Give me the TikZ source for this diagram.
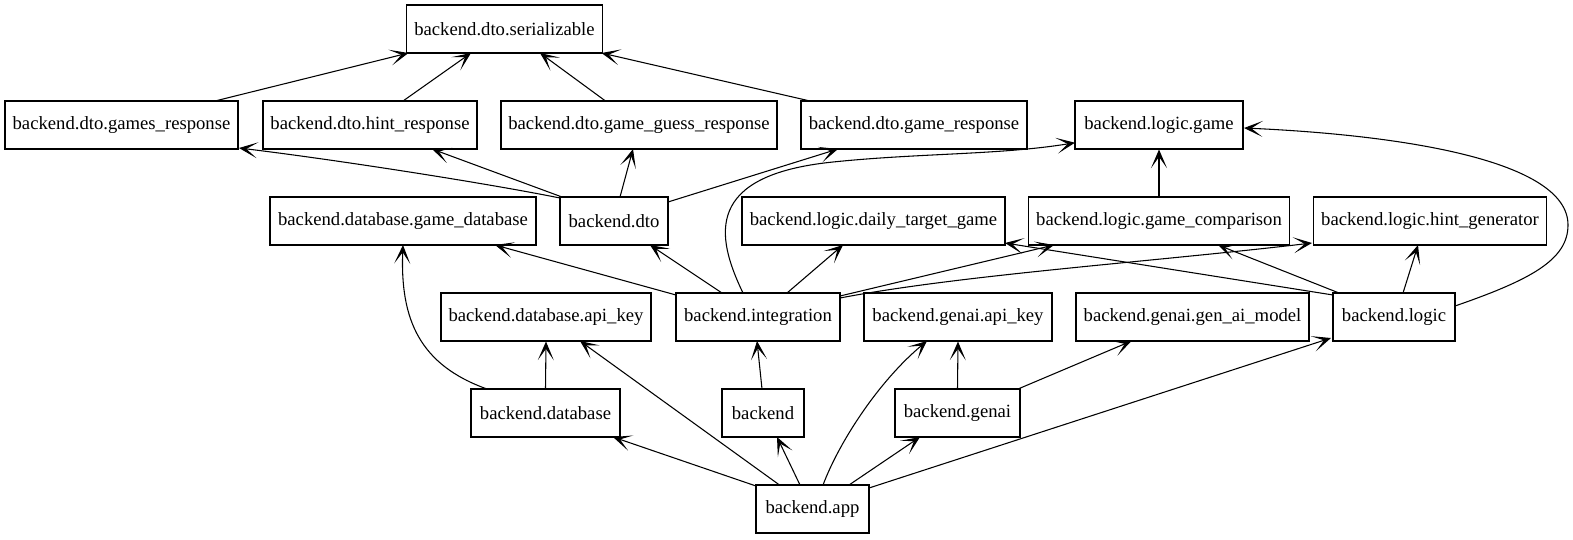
\documentclass[tikz,border=0pt]{standalone}
\usepackage{fontspec}
\setmainfont{Liberation Serif}
\usetikzlibrary{calc,arrows.meta}
\begin{document}
\begin{tikzpicture}[x=0.75pt,y=-0.75pt,
  box/.style={draw, line width=0.8pt, minimum height=36pt, inner sep=0pt, font=\fontsize{14}{16}\selectfont},
  arr/.style={draw, line width=0.8pt, -{Stealth[length=14pt,width=12pt,inset=8.5pt]}}]
\useasboundingbox (0,0) rectangle (1573,539);
% row 1
\node[box, minimum width=146.5pt] (ser) at (504.5,29) {backend.dto.serializable};
% row 2
\node[box, minimum width=174.75pt] (gr) at (121.5,125) {backend.dto.games\_response};
\node[box, minimum width=160.5pt] (hr) at (370,125) {backend.dto.hint\_response};
\node[box, minimum width=207pt] (ggr) at (639,125) {backend.dto.game\_guess\_response};
\node[box, minimum width=169.5pt] (gmr) at (914,125) {backend.dto.game\_response};
\node[box, minimum width=126pt] (lg) at (1159,125) {backend.logic.game};
% row 3
\node[box, minimum width=199.5pt] (gdb) at (403,221) {backend.database.game\_database};
\node[box, minimum width=81pt] (dto) at (614,221) {backend.dto};
\node[box, minimum width=197.25pt] (dtg) at (873.5,221) {backend.logic.daily\_target\_game};
\node[box, minimum width=195.75pt] (cmp) at (1159,221) {backend.logic.game\_comparison};
\node[box, minimum width=174.75pt] (hg) at (1430,221) {backend.logic.hint\_generator};
% row 4
\node[box, minimum width=157.5pt] (dak) at (546,317) {backend.database.api\_key};
\node[box, minimum width=123pt] (itg) at (758,317) {backend.integration};
\node[box, minimum width=141pt] (gak) at (958,317) {backend.genai.api\_key};
\node[box, minimum width=174.75pt] (gam) at (1192.5,317) {backend.genai.gen\_ai\_model};
\node[box, minimum width=91.5pt] (lgc) at (1394,317) {backend.logic};
% row 5
\node[box, minimum width=111.75pt] (db) at (545.5,413) {backend.database};
\node[box, minimum width=61.5pt] (be) at (763,413) {backend};
\node[box, minimum width=93.75pt] (ge) at (957.5,413) {backend.genai};
% row 6
\node[box, minimum width=84.75pt] (app) at (812.5,509) {backend.app};
% edges
\draw[arr] ($(gr)+(93.5,-24)$) -- ($(ser)+(-96,24)$);
\draw[arr] ($(hr)+(33,-24)$) -- ($(ser)+(-33.5,24)$);
\draw[arr] ($(ggr)+(-33.5,-24)$) -- ($(ser)+(35.5,24)$);
\draw[arr] ($(gmr)+(-104,-24)$) -- ($(ser)+(97,24)$);
\draw[arr] ($(dto)+(-54,-23)$) .. controls (480,182) and (330,159) .. ($(gr)+(117.5,23)$);
\draw[arr] ($(dto)+(-52,-24)$) -- ($(hr)+(62,24)$);
\draw[arr] ($(dto)+(6,-24)$) -- ($(ggr)+(-6,24)$);
\draw[arr] ($(dto)+(54,-19)$) -- ($(gmr)+(-76,24)$);
\draw[arr] ($(itg)+(-82,-22)$) -- ($(gdb)+(92,24)$);
\draw[arr] ($(itg)+(-36,-24)$) -- ($(dto)+(36,24)$);
\draw[arr] ($(itg)+(-15,-24)$) .. controls (715,235) and (705,175) .. (833,162) .. controls (920,153) and (1000,155) .. ($(lg)+(-84,17.7)$);
\draw[arr] ($(itg)+(29,-24)$) -- ($(dtg)+(-30.5,24)$);
\draw[arr] ($(itg)+(82,-21)$) -- ($(cmp)+(-105,24)$);
\draw[arr] ($(itg)+(82,-19)$) .. controls (960,275) and (1150,262) .. ($(hg)+(-118,22)$);
\draw[arr] (cmp.north) -- (lg.south);
\draw[arr] ($(lgc)+(-61,-22)$) -- ($(dtg)+(131.5,22)$);
\draw[arr] ($(lgc)+(-55,-24)$) -- ($(cmp)+(59,24)$);
\draw[arr] ($(lgc)+(9,-24)$) -- ($(hg)+(-12,24)$);
\draw[arr] ($(lgc)+(61,-11)$) .. controls (1530,280) and (1568,260) .. (1568,225) .. controls (1568,160) and (1400,135) .. ($(lg)+(85,3)$);
\draw[arr] ($(be)+(-1,-24)$) -- ($(itg)+(-1,24)$);
\draw[arr] (db.north) -- (dak.south);
\draw[arr] ($(db)+(-58.5,-24)$) .. controls (420,365) and (400,320) .. ($(gdb)+(0,24)$);
\draw[arr] ($(app)+(-56.5,-23)$) -- ($(db)+(67.5,24)$);
\draw[arr] ($(app)+(-33,-24)$) -- ($(dak)+(34,24)$);
\draw[arr] ($(app)+(-12.5,-24)$) -- ($(be)+(14,24)$);
\draw[arr] ($(app)+(10.5,-24)$) .. controls (840,440) and (880,380) .. ($(gak)+(-31,24)$);
\draw[arr] ($(app)+(36.5,-24)$) -- ($(ge)+(-37.5,24)$);
\draw[arr] ($(app)+(56.5,-21)$) -- ($(lgc)+(-63,21)$);
\draw[arr] (ge.north) -- (gak.south);
\draw[arr] ($(ge)+(60.5,-24)$) -- ($(gam)+(-61,24)$);
\end{tikzpicture}
\end{document}
